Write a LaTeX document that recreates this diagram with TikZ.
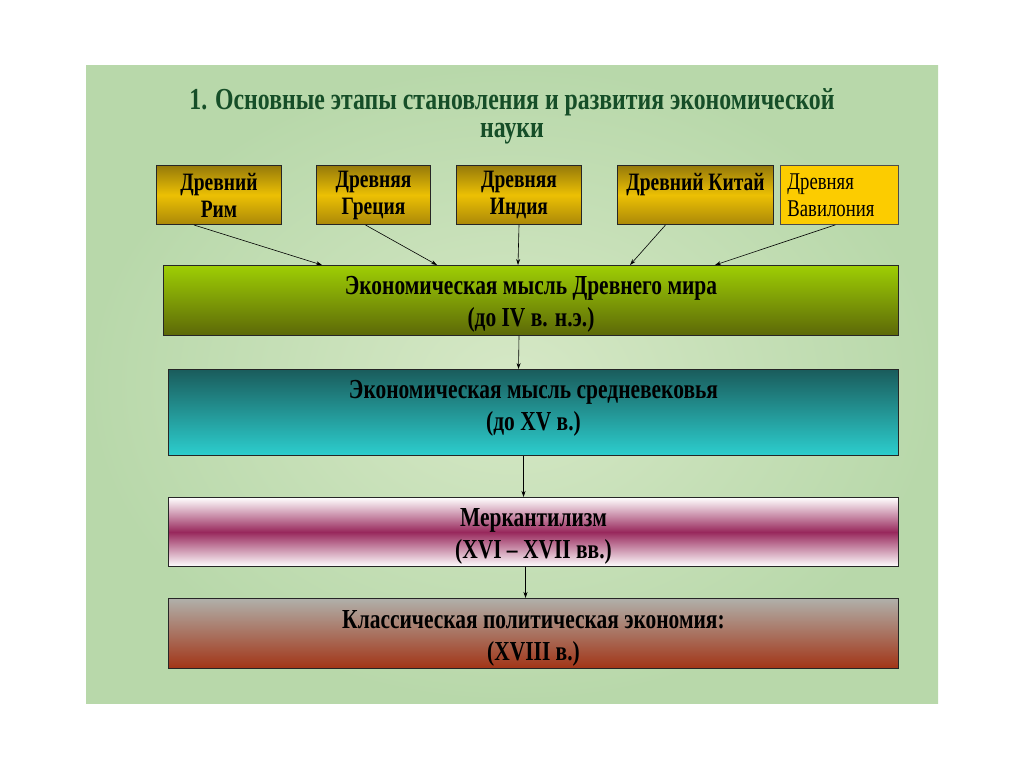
\documentclass[tikz,border=0pt]{standalone}
\usepackage{fontspec}
\setmainfont[FakeStretch=0.78]{Liberation Serif}
\usetikzlibrary{arrows.meta,calc}
\definecolor{bgA}{RGB}{184,216,170}
\definecolor{bgB}{RGB}{214,232,198}
\definecolor{titlegreen}{RGB}{22,78,40}
\definecolor{golddark}{RGB}{150,122,10}
\definecolor{goldmid}{RGB}{236,192,4}
\definecolor{goldlow}{RGB}{170,136,8}
\definecolor{goldflat}{RGB}{252,204,0}
\definecolor{greentop}{RGB}{158,206,4}
\definecolor{greenbot}{RGB}{92,104,8}
\definecolor{tealtop}{RGB}{26,92,92}
\definecolor{tealbot}{RGB}{44,206,206}
\definecolor{magmid}{RGB}{152,40,92}
\definecolor{greytop}{RGB}{176,176,170}
\definecolor{brownbot}{RGB}{162,52,22}
\tikzset{
  goldbox/.style={draw=black!85, line width=1pt, anchor=north west, align=center,
    minimum height=59pt, inner sep=1pt,
    top color=golddark, bottom color=goldlow, middle color=goldmid,
    font=\bfseries\fontsize{25}{27}\selectfont},
  flatbox/.style={draw=black!70, line width=0.8pt, anchor=north west, align=left,
    minimum height=59pt, inner xsep=7pt, inner ysep=2pt, fill=goldflat,
    font=\fontsize{24}{27}\selectfont},
  bar/.style={draw=black!85, line width=1pt, anchor=north west, inner sep=0pt},
  bartext/.style={align=center, inner sep=0pt, font=\bfseries\fontsize{27.5}{32}\selectfont},
  arr/.style={-{Stealth[length=6pt,width=4pt]}, line width=0.6pt, black}
}
\begin{document}
\begin{tikzpicture}[x=1pt,y=-1pt]
\useasboundingbox (0,0) rectangle (1024,768);
\fill[white] (0,0) rectangle (1024,768);
% panel
\shade[inner color=bgB, outer color=bgA] (86,65) rectangle (938,703);
% title
\node[text=titlegreen, font=\bfseries\fontsize{30.5}{28}\selectfont, align=center] (title) at (512,116)
  {1. Основные этапы становления и развития экономической\\науки};
% top boxes
\node[goldbox, minimum width=125pt] (rim) at (156,165) {Древний\\Рим};
\node[goldbox, minimum width=114pt] (greece) at (316,165) {Древняя\\Греция};
\node[goldbox, minimum width=125pt] (india) at (456,165) {Древняя\\Индия};
\node[goldbox, minimum width=156pt] (china) at (617,165) {};
\node[font=\bfseries\fontsize{25}{27}\selectfont, anchor=north, inner sep=0pt] (chinat) at ($(china.north)+(0,8)$) {Древний Китай};
\node[flatbox, text width=104pt] (babylon) at (780,165) {Древняя\\Вавилония};
% bars
\node[bar, minimum width=735pt, minimum height=70pt, top color=greentop, bottom color=greenbot] (b1) at (163,265) {};
\node[bar, minimum width=730pt, minimum height=86pt, top color=tealtop, bottom color=tealbot] (b2) at (168,369) {};
\node[bar, minimum width=730pt, minimum height=69pt, top color=white, bottom color=white, middle color=magmid] (b3) at (168,497) {};
\node[bar, minimum width=730pt, minimum height=70pt, top color=greytop, bottom color=brownbot] (b4) at (168,598) {};
\node[bartext] (b1t) at ($(b1.center)+(0,4)$) {Экономическая мысль Древнего мира\\(до IV в. н.э.)};
\node[bartext] (b2t) at ($(b2.center)+(0,-4)$) {Экономическая мысль средневековья\\(до XV в.)};
\node[bartext] (b3t) at ($(b3.center)+(0,4)$) {Меркантилизм\\(XVI – XVII вв.)};
\node[bartext] (b4t) at ($(b4.center)+(0,5)$) {Классическая политическая экономия:\\(XVIII в.)};
% arrow targets on bar 1
\coordinate (t1) at (322,265);
\coordinate (t2) at (437,265);
\coordinate (t3) at (518,265);
\coordinate (t4) at (630,265);
\coordinate (t5) at (715,265);
\draw[arr] ($(rim.south)+(-25,0)$) -- (t1);
\draw[arr] ($(greece.south)+(-8,0)$) -- (t2);
\draw[arr] (india.south) -- (t3);
\draw[arr] ($(china.south)+(-30,0)$) -- (t4);
\draw[arr] ($(babylon.south)+(-4,0)$) -- (t5);
% vertical arrows
\draw[arr] ($(b1.south)+(-12,0)$) -- ($(b2.north)+(-15,0)$);
\draw[arr] ($(b2.south)+(-10,0)$) -- ($(b3.north)+(-10,0)$);
\draw[arr] ($(b3.south)+(-8,0)$) -- ($(b4.north)+(-8,0)$);
\end{tikzpicture}
\end{document}
